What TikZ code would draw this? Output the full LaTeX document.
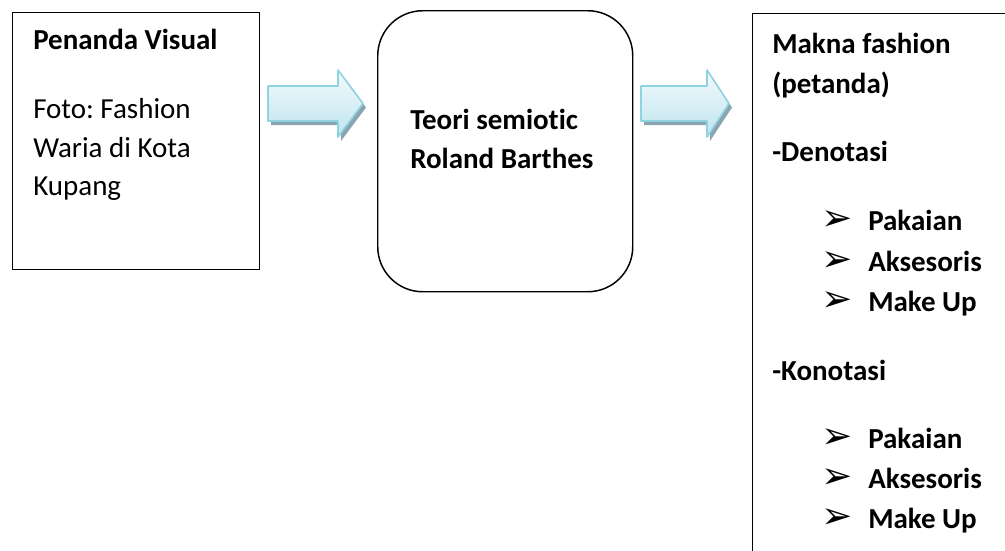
\documentclass[tikz,border=0pt]{standalone}
\usepackage{fontspec}
\setmainfont{Carlito}[Ligatures={NoCommon}]
\newfontfamily\bulletfont{DejaVu Sans}
\usetikzlibrary{positioning}
\frenchspacing
\definecolor{arrowline}{HTML}{8FD2E0}
\definecolor{arrowlight}{HTML}{F2FAFC}
\definecolor{arrowfill}{HTML}{BFE4EE}
\definecolor{arrowshade}{HTML}{8AA5AF}
\tikzset{
  frame/.style={draw, line width=1.1pt, inner sep=0pt, anchor=north west},
  txt/.style={anchor=base west, inner sep=0pt, font=\fontsize{21.75}{29}\selectfont},
  txtb/.style={txt, font=\fontsize{21.75}{29}\selectfont\bfseries},
  tick/.style={anchor=base west, inner sep=0pt, font=\bulletfont\fontsize{28}{28}\selectfont},
}
\begin{document}
\begin{tikzpicture}[x=0.75pt,y=-0.75pt,line cap=round,line join=round]
  \clip (0,0) rectangle (1005,550);
  % boxes
  \node[frame, minimum width=185.25pt, minimum height=192.75pt] (visual) at (12,12) {};
  \node[frame, rounded corners=33.75pt, minimum width=191.25pt, minimum height=210.75pt] (theory) at (377,10) {};
  \node[frame, minimum width=240pt, minimum height=420pt] (meaning) at (752,13) {};
  % block arrows
  \foreach \xs/\xb/\xt in {268/338/363, 641/707/729} {
    \fill[arrowshade, shift={(3,4)}] (\xs,86) -- (\xb,86) -- (\xb,70) -- (\xt,103.5)
      -- (\xb,137) -- (\xb,121) -- (\xs,121) -- cycle;
    \draw[arrowline, line width=1.2pt, top color=arrowlight, bottom color=arrowfill]
      (\xs,86) -- (\xb,86) -- (\xb,70) -- (\xt,103.5)
      -- (\xb,137) -- (\xb,121) -- (\xs,121) -- cycle;
  }
  % left box
  \node[txtb] (vtitle) at (33,49) {Penanda Visual};
  \node[txt] (vline1) at (33,118) {Foto: Fashion};
  \node[txt] (vline2) at (33,157) {Waria di Kota};
  \node[txt] (vline3) at (33,195) {Kupang};
  % middle box
  \node[txtb] (tline1) at (410,129) {Teori semiotic};
  \node[txtb] (tline2) at (410,168) {Roland Barthes};
  % right box
  \node[txtb] (mtitle1) at (772,53) {Makna fashion};
  \node[txtb] (mtitle2) at (772,93) {(petanda)};
  \node[txtb] (deno) at (772,161) {-Denotasi};
  \node[txtb] (kono) at (772,380) {-Konotasi};
  \foreach \item [count=\i] in {Pakaian,Aksesoris,Make Up} {
    \node[tick] (dtick\i) at (821,190+40.5*\i) {➢};
    \node[txtb] (ditem\i) at (868,190+40.5*\i) {\item};
    \node[tick] (ktick\i) at (821,408+40*\i) {➢};
    \node[txtb] (kitem\i) at (868,408+40*\i) {\item};
  }
\end{tikzpicture}
\end{document}
